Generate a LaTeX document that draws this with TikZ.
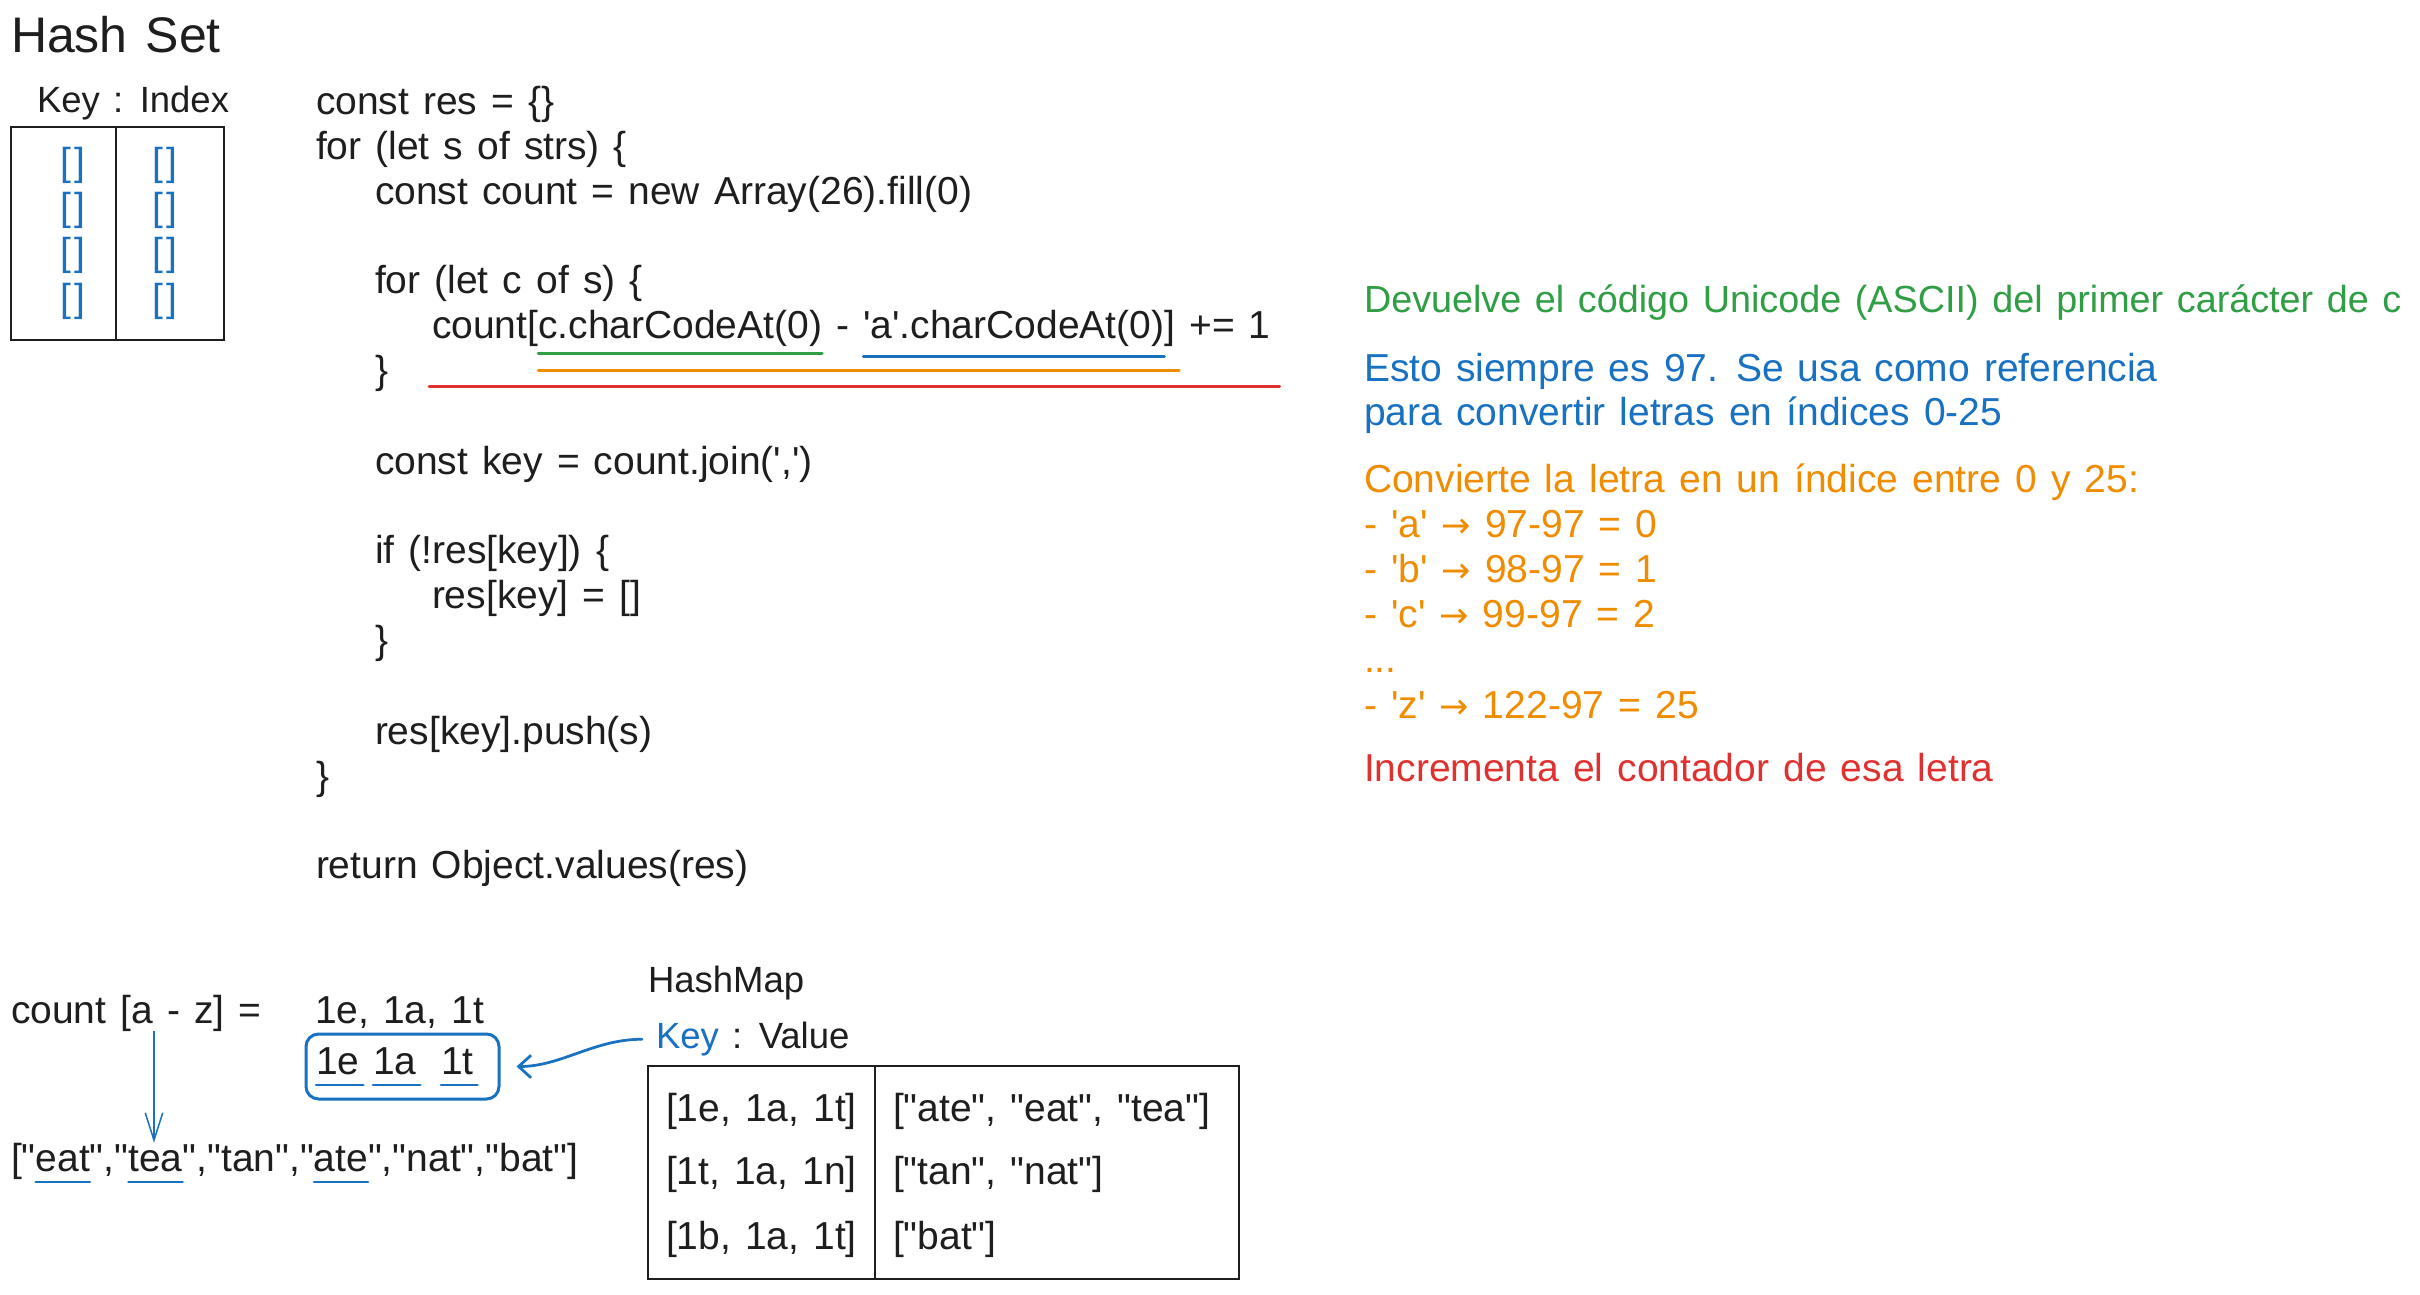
\documentclass[tikz,border=0pt]{standalone}
\usepackage{fontspec}
\newfontfamily\hand{Liberation Sans}[WordSpace=1.3]
\newfontfamily\arrowf{DejaVu Sans}
\usetikzlibrary{arrows.meta,calc,fit}
\definecolor{ink}{HTML}{1E1E1E}
\definecolor{xgreen}{HTML}{2F9E44}
\definecolor{xblue}{HTML}{1971C2}
\definecolor{xorange}{HTML}{F08C00}
\definecolor{xred}{HTML}{E03131}
\newcommand\codesz{\hand\fontsize{15.6pt}{18pt}\selectfont}
\newcommand\notesz{\hand\fontsize{15.1pt}{18pt}\selectfont}
\newcommand\titlesz{\hand\fontsize{20pt}{24pt}\selectfont}
\newcommand\labsz{\hand\fontsize{14.6pt}{18pt}\selectfont}
\newcommand\rarr{{\arrowf\fontsize{14pt}{18pt}\selectfont →}}
\begin{document}
\begin{tikzpicture}[x=0.4pt,y=-0.4pt,
  txt/.style={inner sep=0pt,outer sep=0pt,anchor=base west,font=\codesz,text=ink},
  brk/.style={inner sep=0pt,font=\codesz,text=xblue},
  uline/.style={line width=1.2pt,line cap=round},
  gridline/.style={draw=ink,line width=0.8pt},
  frame/.style={draw=ink,line width=0.8pt,inner sep=0pt,outer sep=0pt},
  bluebox/.style={draw=xblue,line width=1.2pt,rounded corners=5pt,inner sep=0pt,outer sep=0pt},
  downarrow/.style={draw=xblue,line width=0.6pt,-{Straight Barb[length=11pt,width=7pt]}},
  keyarrow/.style={draw=xblue,line width=1.1pt,line cap=round,-{Straight Barb[length=5pt,width=9pt]}}]
\useasboundingbox[fill=white] (0,0) rectangle (2420,1294);

% ---------- Hash Set ----------
\node[txt,font=\titlesz] (title) at (11,52) {Hash Set};
\node[txt,font=\labsz] (hsk) at (37,112) {Key : Index};
\node[frame,fit={(11,127) (224,340)}] (hst) {};
\draw[gridline] (116,127) -- (116,340);
\foreach \y [count=\i] in {165,210,255,301}{
  \node[brk] (hl\i) at (73,\y) {[\kern1.5pt]};
  \node[brk] (hr\i) at (165,\y) {[\kern1.5pt]};
}

% ---------- Code ----------
\node[txt] (l1) at (316,114) {const res = \{\}};
\node[txt] (l2) at (316,159) {for (let s of strs) \{};
\node[txt] (l3) at (375,204) {const count = new Array(26).fill(0)};
\node[txt] (l4) at (375,293) {for (let c of s) \{};
\node[txt] (l5a) at (432,338) {count[};
\node[txt] (l5b) at (l5a.base east) {c.charCodeAt(0)};
\node[txt] (l5c) at (l5b.base east) {\ -\kern0.36em\null};
\node[txt] (l5d) at (l5c.base east) {'a'.charCodeAt(0)};
\node[txt] (l5e) at (l5d.base east) {]};
\node[txt] (l5f) at (l5e.base east) {\ += 1};
\node[txt] (l6) at (375,383) {\}};
\node[txt] (l7) at (375,474) {const key = count.join(',')};
\node[txt] (l8) at (375,563) {if (!res[key]) \{};
\node[txt] (l9) at (432,608) {res[key] = []};
\node[txt] (l10) at (375,653) {\}};
\node[txt] (l11) at (375,744) {res[key].push(s)};
\node[txt] (l12) at (316,789) {\}};
\node[txt] (l13) at (316,878) {return Object.values(res)};

\draw[uline,xgreen] ($(l5b.base west)+(0,15)$) -- ($(l5b.base east)+(0,15)$);
\draw[uline,xblue] ($(l5d.base west)+(0,18)$) -- ($(l5d.base east)+(0,18)$);
\draw[uline,xorange] ($(l5b.base west)+(0,32)$) -- ($(l5e.base east)+(4,32)$);
\draw[uline,xred] ($(l5a.base west)+(-3,48)$) -- ($(l5f.base east)+(9,48)$);

% ---------- Annotations ----------
\node[txt,font=\notesz,text=xgreen] (a1) at (1364,312) {Devuelve el código Unicode (ASCII) del primer carácter de c};
\node[txt,text=xblue] (a2) at (1364,381) {Esto siempre es 97. Se usa como referencia};
\node[txt,text=xblue] (a3) at (1364,425) {para convertir letras en índices 0-25};
\node[txt,text=xorange] (a4) at (1364,492) {Convierte la letra en un índice entre 0 y 25:};
\node[txt,text=xorange] (a5) at (1364,537) {- 'a' \rarr{} 97-97 = 0};
\node[txt,text=xorange] (a6) at (1364,582) {- 'b' \rarr{} 98-97 = 1};
\node[txt,text=xorange] (a7) at (1364,627) {- 'c' \rarr{} 99-97 = 2};
\node[txt,text=xorange] (a8) at (1364,672) {...};
\node[txt,text=xorange] (a9) at (1364,718) {- 'z' \rarr{} 122-97 = 25};
\node[txt,text=xred] (a10) at (1364,781) {Incrementa el contador de esa letra};

% ---------- Bottom left ----------
\node[txt] (cnt) at (11,1023) {count [a - z] =};
\node[txt] (cv) at (315,1023) {1e, 1a, 1t};
\node[txt] (t1) at (316,1074) {1e};
\node[txt] (t2) at (373,1074) {1a};
\node[txt] (t3) at (441,1074) {1t};
\foreach \t in {t1,t2,t3}{
  \draw[uline,xblue,line width=1pt] ($(\t.base west)+(0,11)$) -- ($(\t.base east)+(4,11)$);
}
\node[bluebox,fit={(306,1034) (499,1099)}] (box) {};

\node[txt] (s1) at (11,1171) {["};
\node[txt] (s2) at (s1.base east) {eat};
\node[txt] (s3) at (s2.base east) {","};
\node[txt] (s4) at (s3.base east) {tea};
\node[txt] (s5) at (s4.base east) {","tan","};
\node[txt] (s6) at (s5.base east) {ate};
\node[txt] (s7) at (s6.base east) {","nat","bat"]};
\foreach \t in {s2,s4,s6}{
  \draw[uline,xblue,line width=1pt] ($(\t.base west)+(0,11)$) -- ($(\t.base east)+(0,11)$);
}
\coordinate (ax) at (154,0);
\draw[downarrow] (cnt.south -| ax) -- (s1.north -| ax);

% ---------- HashMap ----------
\node[txt,font=\labsz] (hm) at (648,992) {HashMap};
\node[txt,font=\labsz,text=xblue] (kk) at (656,1048) {Key};
\node[txt,font=\labsz] (kv) at (kk.base east) {\ : Value};
\node[frame,fit={(648,1066) (1239,1279)}] (hmt) {};
\draw[gridline] (875,1066) -- (875,1279);
\node[txt] (k1) at (666,1121) {[1e, 1a, 1t]};
\node[txt] (k2) at (666,1184) {[1t, 1a, 1n]};
\node[txt] (k3) at (666,1249) {[1b, 1a, 1t]};
\node[txt] (v1) at (893,1121) {["ate", "eat", "tea"]};
\node[txt] (v2) at (893,1184) {["tan", "nat"]};
\node[txt] (v3) at (893,1249) {["bat"]};

\draw[keyarrow,shorten <=5.6pt,shorten >=7pt] (kk.west) to[out=180,in=0] (box.east);
\end{tikzpicture}
\end{document}
